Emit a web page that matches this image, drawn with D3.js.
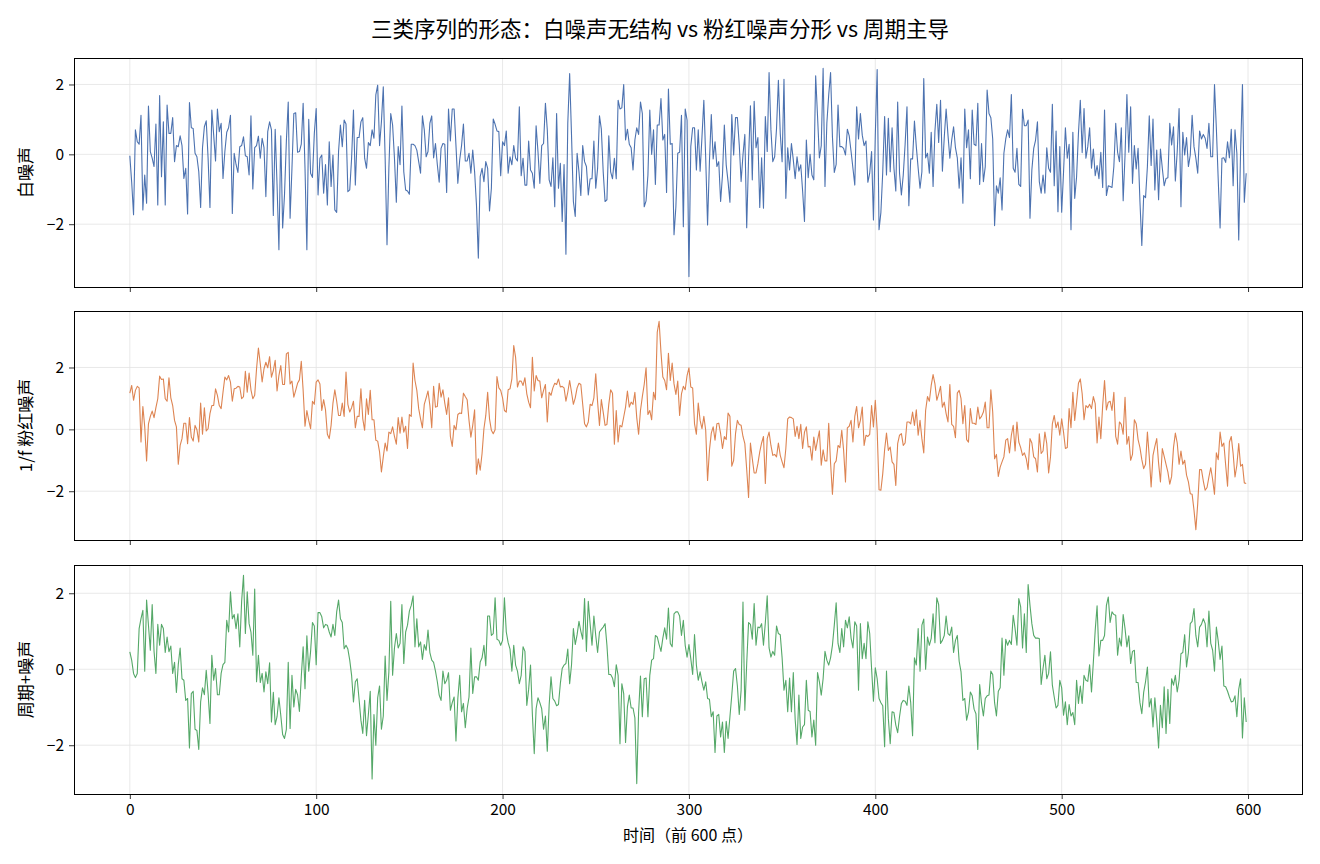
<!DOCTYPE html>
<html>
<head>
<meta charset="utf-8">
<script src="https://cdn.jsdelivr.net/npm/d3@7"></script>
<style>
  body { margin: 0; background: #fff; }
  svg text { font-family: "Noto Sans CJK SC", "Noto Sans", sans-serif; fill: #000; }
  .grid line { stroke: #e3e3e3; stroke-width: 0.8; }
  .axis line { stroke: #000; stroke-width: 0.8; }
  .axis text { font-size: 15.5px; }
</style>
</head>
<body>
<svg id="chart" width="1320" height="864"></svg>
<script>
const titleText = '三类序列的形态：白噪声无结构 vs 粉红噪声分形 vs 周期主导';
const xLabelText = '时间（前 600 点）';
const seriesNames = ['白噪声', '1/f 粉红噪声', '周期+噪声'];
const seriesColors = ['#4c72b0', '#dd8452', '#55a868'];
const xTicks = [0, 100, 200, 300, 400, 500, 600];
const yTicks = [-2, 0, 2];

// values, one per time step (0..599)
const whiteNoise = [
 -0.04,-0.80,-1.73,0.70,0.36,0.29,1.12,-1.59,-0.59,-1.40,1.38,0.08,-0.11,-0.35,0.87,-1.45,1.68,-0.64,0.93,-1.45,
 1.41,0.60,0.60,1.05,-0.21,0.25,0.22,0.53,0.25,-0.69,-0.40,-1.71,1.48,0.76,0.74,0.03,-0.07,-0.50,-1.52,0.19,
 0.79,0.96,-0.11,-1.52,1.27,0.55,-0.19,1.30,0.65,0.89,-0.69,0.08,0.63,0.76,1.12,-1.69,0.03,-0.29,-0.52,0.22,
 0.25,0.50,-0.04,-0.07,-0.59,1.10,-0.99,0.19,0.25,0.52,-0.11,0.46,0.19,-1.21,0.65,0.93,0.70,-1.75,0.72,-0.88,
 -2.73,0.53,-2.11,-1.16,0.38,1.50,-1.83,-0.40,1.17,1.19,0.06,0.08,0.29,1.46,-0.40,-2.73,1.00,-0.54,-0.66,0.60,
 1.31,-1.16,-0.11,-0.02,-1.11,-0.29,-1.45,0.36,-0.92,-0.02,-1.59,-1.66,0.08,0.84,0.22,0.98,0.87,-1.07,-1.02,-0.11,
 1.27,-0.88,0.48,0.48,0.93,1.05,-0.11,-0.40,0.34,0.25,0.70,0.46,1.70,1.98,0.25,0.93,1.93,-0.11,-2.59,-0.40,
 1.17,0.84,-0.11,-1.37,0.22,-0.30,1.38,-0.50,-1.02,-1.05,-1.14,0.29,0.29,0.25,0.12,-0.21,-0.54,1.10,0.70,-0.07,
 0.08,0.89,1.10,-0.10,0.31,-0.30,-0.80,0.17,0.31,0.29,-1.09,1.30,0.38,1.30,1.30,0.25,-0.83,-0.16,0.25,0.87,
 -0.19,-0.19,0.03,-0.54,0.12,-0.50,-1.45,-2.97,-0.64,-0.40,-0.78,-0.21,-0.40,-1.62,-0.97,1.01,0.86,0.67,0.65,-0.61,
 0.36,0.25,0.67,-0.54,-0.07,-0.30,0.25,-0.11,-0.19,1.36,-0.61,-0.11,-0.88,-0.88,0.38,-0.45,-0.54,-0.97,0.82,0.08,
 -0.83,0.25,0.31,1.46,0.70,-0.73,-0.92,-0.10,-1.50,1.17,-0.97,-0.26,-1.92,-0.29,-2.86,0.89,2.31,0.55,-1.35,-1.78,
 0.03,-0.50,-1.18,0.25,-0.21,-0.35,-1.16,-0.70,-0.70,0.38,-0.97,-0.40,1.10,0.72,-0.50,-1.35,-1.30,0.53,-0.50,-0.70,
 -0.11,-0.70,1.55,1.30,1.33,2.00,0.41,0.72,0.29,0.19,-0.45,0.41,0.76,0.57,1.50,1.17,-1.50,-1.33,-0.59,1.27,
 0.00,0.70,-0.86,0.84,0.84,1.60,0.41,0.57,-1.09,1.87,0.29,0.31,-2.30,-1.50,0.03,0.06,1.12,-2.07,1.30,0.98,
 -3.50,0.22,0.76,0.76,-0.45,0.70,-0.48,0.50,1.55,-0.11,-2.02,-0.21,1.14,-0.13,0.36,-0.35,-0.21,-1.35,-0.59,0.84,
 -0.30,-0.78,-1.37,1.14,-0.02,1.05,1.05,0.27,-0.78,-0.02,0.57,-2.10,-0.11,1.39,-0.73,1.52,0.19,0.48,-1.52,-0.10,
 -1.54,1.08,0.08,2.34,0.70,-0.21,-0.07,0.74,2.12,0.60,-0.21,2.15,-1.26,0.19,-0.45,0.31,-0.16,-0.70,-0.07,-0.48,
 -0.30,-1.05,-1.92,0.41,-0.67,0.00,-0.59,-0.73,2.25,1.10,-0.10,0.25,2.46,-0.92,0.89,1.70,2.34,0.50,-0.52,-0.29,
 1.41,0.22,0.22,0.17,-0.02,0.72,0.53,0.08,-0.40,-0.88,1.36,0.44,1.17,0.55,0.25,0.38,-0.80,-0.54,0.08,-1.88,
 0.55,2.43,-2.16,-1.66,-0.50,1.08,-0.59,1.03,-0.50,0.76,-0.40,-1.05,1.50,-0.54,-1.16,-0.59,0.29,1.36,-1.47,-0.13,
 -0.13,0.95,0.22,-0.40,-0.97,-0.50,2.17,-0.10,0.03,-0.54,0.63,-0.92,0.67,1.43,0.34,1.55,-0.48,0.48,1.30,0.55,
 -0.11,0.41,0.79,0.19,-0.10,-0.97,-0.10,-1.40,1.30,0.19,0.70,-0.70,1.27,0.29,0.25,1.46,-0.86,0.31,-0.78,-0.35,
 1.84,1.17,1.05,0.44,-2.04,-0.90,-1.11,-0.67,-1.59,0.03,0.44,0.70,0.48,1.71,-0.40,-0.51,0.17,-0.86,-0.92,1.29,
 0.82,0.82,0.98,-1.83,-0.45,0.17,0.41,0.93,-0.78,-1.11,-0.59,-1.11,0.19,-0.40,-0.51,1.43,-0.90,0.67,-1.64,0.22,
 -1.66,-0.51,0.76,-0.11,0.29,-2.16,0.63,-1.26,-0.64,0.60,1.55,0.05,1.31,-0.11,0.22,0.76,-0.40,0.15,-0.61,-0.32,
 -0.70,0.06,-0.95,1.27,-1.18,-0.90,-0.92,-0.95,-0.35,0.89,0.06,-0.21,0.76,-1.33,-0.02,1.71,0.06,1.36,-0.83,0.25,
 -0.42,0.17,-1.35,-2.61,-1.18,-1.24,-0.35,1.10,-0.32,1.01,-1.02,0.12,-1.30,0.15,-0.40,-0.90,-0.69,-0.67,0.89,0.27,
 0.79,-0.76,0.08,1.31,-1.50,0.63,-0.02,0.48,-0.35,-0.02,1.12,0.22,-0.11,-0.54,0.67,0.44,0.57,0.46,0.17,0.89,
 -0.07,-0.07,2.00,0.74,-0.73,-2.11,-0.11,-0.10,-0.23,0.36,-0.10,0.72,-0.90,0.70,0.03,-2.45,0.08,2.00,-1.37,-0.54
];

const pinkNoise = [
 1.17,1.42,0.94,1.26,1.39,1.34,-0.41,0.74,0.08,-1.02,0.18,0.42,0.59,0.38,0.70,0.99,1.72,1.61,1.63,0.99,
 0.91,1.67,1.02,0.77,0.29,0.08,-1.13,-0.52,-0.30,0.20,0.20,-0.46,0.38,-0.25,-0.38,0.13,-0.01,-0.41,0.85,-0.16,
 0.70,-0.05,0.02,0.51,0.77,0.77,1.31,1.10,0.77,0.67,1.20,1.69,1.60,1.74,1.53,0.91,1.31,1.33,1.39,1.37,
 0.99,1.06,1.88,1.20,1.82,1.28,0.99,1.10,1.96,2.63,2.12,1.53,1.96,2.17,1.99,2.35,1.69,1.90,2.23,1.24,
 1.74,2.06,1.45,1.45,2.44,2.49,1.47,1.56,1.04,1.26,1.49,1.60,2.20,1.26,0.10,0.61,0.29,0.02,0.91,0.81,
 1.53,1.60,1.47,0.61,0.96,0.63,-0.16,-0.30,0.13,0.85,1.28,0.91,0.45,0.45,0.85,0.42,1.85,0.81,0.56,0.70,
 0.91,0.05,0.42,0.42,1.31,0.34,-0.03,0.99,0.48,1.26,0.31,0.31,-0.35,-0.38,-0.73,-1.38,-0.89,-0.44,-0.70,-0.09,
 -0.14,0.08,-0.23,-0.48,0.38,-0.12,0.40,-0.09,0.10,-0.62,0.48,0.42,2.14,1.58,1.26,0.67,0.34,0.05,0.81,1.02,
 1.24,0.77,0.05,1.39,0.72,0.74,1.49,1.04,1.28,0.85,0.48,1.02,-0.23,-0.55,0.13,-0.01,0.48,0.53,0.51,1.17,
 1.06,0.96,0.29,-0.25,0.13,0.63,-1.45,-0.95,-1.32,-0.78,0.02,0.45,1.20,0.34,-0.03,-0.14,-0.01,1.71,1.34,1.26,
 1.02,0.61,0.56,1.28,1.31,1.63,2.71,2.33,1.37,1.56,1.56,1.42,1.67,1.15,0.88,0.70,2.33,1.24,1.74,1.58,
 1.56,1.02,1.26,1.45,0.24,1.20,1.10,1.34,1.49,1.45,1.63,1.37,1.39,1.34,0.91,1.20,1.58,1.20,0.81,1.02,
 1.34,1.49,1.45,0.81,0.18,0.08,0.24,0.81,0.77,1.02,1.80,0.88,0.13,0.96,0.56,0.13,0.16,0.81,1.28,1.17,
 -0.48,0.61,-0.41,0.13,0.08,0.40,0.72,1.24,0.72,0.88,0.81,1.20,0.38,-0.16,0.61,1.06,1.45,1.99,0.48,0.61,
 0.31,1.20,0.96,3.14,3.49,2.49,1.69,1.58,1.28,2.46,1.58,2.14,1.47,1.13,1.56,0.45,1.15,1.39,1.28,1.74,
 1.99,1.37,1.34,0.18,-0.16,0.85,0.29,0.02,0.42,-0.03,-1.65,-0.68,-0.12,0.08,-0.35,0.18,0.20,-0.14,-0.62,-0.23,
 -0.33,0.53,0.42,-1.19,-1.00,-0.14,0.29,0.16,0.13,-0.23,-0.46,-1.30,-2.20,-0.44,-0.95,-1.41,-1.41,-1.11,-0.73,-0.44,
 -0.23,-1.75,-0.30,-0.09,-0.52,-0.84,-0.81,-0.89,-0.44,-0.84,-1.05,-1.24,-0.62,0.34,0.40,0.38,0.34,-0.23,0.10,-0.30,
 0.16,-0.62,-0.09,0.08,-0.57,-0.55,-1.00,-0.25,-0.68,-0.35,-0.05,-1.16,-0.66,-1.02,-1.02,0.20,-1.09,-2.10,-1.11,-1.02,
 -0.52,-0.59,-0.03,-0.68,-1.70,0.05,0.10,0.29,-0.41,0.42,0.74,0.05,0.29,0.72,-0.52,-0.19,-0.23,-0.16,0.77,0.08,
 0.94,-0.03,-1.95,-1.97,-1.43,-0.66,-0.12,-0.68,-0.57,-1.05,-1.13,-1.81,-0.46,-0.19,-0.14,-0.52,-0.44,0.24,0.24,0.18,
 0.56,0.13,0.63,-0.19,0.29,-0.30,-0.76,0.61,1.06,0.91,1.42,1.77,1.47,0.94,1.15,1.39,0.72,0.88,0.51,0.24,
 1.45,0.16,0.10,-0.27,1.17,1.26,0.99,0.18,0.77,-0.33,-0.41,0.67,0.20,0.20,0.16,0.72,0.34,0.42,0.56,0.88,
 0.05,0.05,1.28,0.56,-0.95,-0.81,-1.52,-1.22,-1.05,-0.89,-0.35,-0.30,-0.76,-0.19,0.13,-0.70,0.24,-0.41,-0.59,-0.84,
 -0.76,-0.95,-1.30,-0.30,-0.44,-0.89,-0.95,-1.38,-0.14,-0.78,-0.70,-0.09,-0.46,-1.41,-0.89,0.18,0.45,0.05,0.24,-0.19,
 0.34,-0.09,-0.62,-0.59,0.67,0.05,1.20,0.29,0.88,1.49,1.63,1.15,0.31,0.77,0.70,0.81,0.67,1.06,0.83,-0.44,
 0.40,-0.30,0.77,1.58,0.63,0.88,0.91,0.61,1.20,-0.23,-0.48,0.24,0.16,-0.16,1.04,-0.48,-0.23,-1.00,-0.81,0.31,
 0.18,-0.33,-0.59,-0.98,-1.27,-1.13,-0.09,-0.89,-1.86,-0.84,-0.55,-0.30,-1.09,-1.70,-0.62,-0.87,-1.13,-1.38,-1.77,-1.52,
 -0.59,-0.12,-0.44,-1.13,-0.70,-1.13,-1.00,-1.48,-1.70,-2.08,-2.10,-2.61,-3.24,-2.40,-1.30,-1.30,-1.67,-1.97,-1.88,-1.54,
 -1.24,-1.62,-2.10,-0.76,-0.98,-0.09,-0.55,-0.44,-1.16,-1.84,-0.41,-0.23,-0.78,-1.54,-1.16,-0.46,-1.19,-1.13,-1.73,-1.75
];

const periodicNoise = [
 0.46,0.24,-0.11,-0.22,-0.11,1.07,1.33,1.55,-0.05,1.82,1.16,0.50,1.70,0.47,-0.11,1.18,0.63,1.18,1.07,0.44,
 0.85,0.46,0.61,-0.11,0.18,-0.61,0.12,0.56,-0.25,-0.29,-0.82,-0.77,-2.07,-0.64,-0.58,-1.58,-1.61,-2.11,-0.86,-0.49,
 -0.67,-0.03,-0.64,-1.43,0.37,-0.29,0.02,-0.67,-0.67,-0.11,0.12,0.18,1.29,0.98,2.04,1.33,1.44,1.07,1.46,0.59,
 1.79,2.47,0.94,2.04,1.20,0.98,0.37,2.11,-0.33,0.37,-0.35,-0.11,-0.60,-0.07,-0.38,0.17,-1.39,-0.61,-1.46,-1.25,
 -0.75,-1.21,-1.72,-1.82,-1.58,0.18,-1.56,-0.16,-0.99,-0.53,-0.67,-1.11,-0.20,0.59,-0.51,0.88,-0.05,0.47,1.23,1.14,
 0.12,1.49,1.49,1.38,1.09,1.18,1.16,0.98,0.85,1.18,0.89,1.51,1.82,1.33,1.23,0.54,0.63,0.53,0.24,-0.16,
 -0.86,-0.33,-0.25,-0.79,-1.34,-1.69,-0.82,-1.75,-1.19,-0.58,-2.89,-1.19,-2.00,-0.75,-0.44,-1.58,-1.23,0.35,-0.82,-0.07,
 1.79,-0.16,0.56,0.94,0.56,0.68,1.70,0.15,0.98,1.16,1.53,1.68,1.93,0.59,1.33,0.59,0.72,0.26,0.65,0.50,
 1.03,0.44,0.24,0.18,-0.05,-0.33,-0.68,-0.82,-0.05,-0.38,-0.29,-0.09,-1.08,-0.88,-0.73,-1.89,-0.77,-0.16,-1.12,-0.90,
 -1.54,-1.04,-0.73,0.56,-0.64,-0.20,-0.20,-0.29,0.19,0.30,0.63,0.09,1.40,1.40,0.89,0.94,1.88,0.79,0.76,0.63,
 0.76,1.88,0.98,0.70,0.53,-0.05,0.63,0.11,-0.05,-0.38,-0.16,0.59,0.47,-0.95,-0.53,0.11,-1.19,-2.22,-1.04,-0.75,
 -0.88,-1.04,-1.58,-1.23,-2.16,-0.95,-0.20,-0.77,-0.84,-0.96,-0.93,-0.38,0.02,0.11,0.15,0.53,-0.38,0.11,1.07,0.65,
 0.91,1.26,1.00,0.79,1.86,0.47,1.79,1.18,0.63,1.40,0.89,0.44,0.98,1.05,1.11,1.20,0.63,-0.14,-0.14,-0.23,
 -0.46,0.12,-0.16,-1.96,-0.38,-0.64,-1.93,-0.99,-0.68,-1.02,-1.02,-1.28,-3.01,-1.12,-0.18,-1.25,-0.25,-0.23,-1.25,-0.16,
 0.24,0.28,0.89,0.85,0.65,0.47,0.82,1.09,0.79,1.61,0.68,0.59,1.46,1.51,1.51,1.40,0.89,1.29,0.63,0.32,
 0.65,0.28,-0.14,0.91,0.11,-0.29,-0.07,-0.33,-0.55,-0.33,-0.77,-0.79,-1.25,-1.12,-2.19,-1.23,-1.19,-1.78,-1.39,-2.19,
 -1.37,-1.82,-1.25,-0.68,-0.05,0.02,-0.44,-1.19,-0.55,1.77,-1.08,0.15,1.23,1.18,0.79,1.73,0.63,1.11,1.09,1.20,
 0.63,1.23,1.93,0.56,0.32,0.47,0.37,1.14,0.94,0.91,0.30,-0.55,-0.29,-1.12,-0.23,-1.12,-0.09,-1.32,-1.98,-0.68,
 -1.82,-1.52,-1.46,-0.29,-1.08,-1.11,-1.78,-1.34,-2.00,-0.09,-0.33,-0.68,-0.25,0.47,0.24,0.11,0.30,0.63,1.16,1.75,
 0.68,0.44,1.07,0.59,1.29,1.09,1.38,0.82,0.56,1.25,1.14,-0.55,1.20,0.28,0.68,0.28,1.25,0.94,0.02,-0.84,
 0.04,-0.25,-0.77,-0.88,-0.96,-2.04,-0.05,-1.30,-1.96,-1.12,-1.14,-1.47,-1.67,-1.25,-0.90,-0.82,-0.84,-0.95,-0.44,-0.88,
 -1.75,0.30,0.11,1.07,-0.05,1.16,1.32,0.00,0.85,0.63,0.81,1.46,0.70,1.88,1.70,0.68,0.76,0.89,1.40,0.94,
 0.89,1.11,0.44,0.76,0.89,0.21,-0.07,-0.82,-0.77,-1.34,-1.12,-0.60,-0.70,-1.05,-1.17,-2.11,-0.40,-0.90,-1.23,-0.77,
 -0.70,-0.68,-0.05,-0.14,-0.88,-1.23,-0.58,-0.49,0.82,-0.16,0.79,0.63,0.76,0.65,1.42,1.07,0.63,1.86,1.64,0.56,
 1.46,0.44,2.23,1.68,1.20,0.89,0.82,0.82,0.81,-0.40,0.02,0.37,-0.25,-0.11,0.46,-0.42,-0.73,-1.02,-0.95,-0.29,
 -0.49,-1.21,-0.86,-1.46,-0.93,-1.23,-1.14,-1.46,-0.29,-0.90,-0.44,-0.90,-0.16,-0.29,-0.32,0.12,-0.60,0.19,1.03,1.67,
 0.35,0.76,0.76,0.89,1.68,1.90,1.23,1.51,1.44,1.42,0.37,0.82,0.61,1.44,1.07,0.59,0.88,0.15,0.47,0.50,
 -0.35,-0.35,-0.88,-1.17,-0.61,-0.33,0.06,-0.99,-0.77,-1.52,-0.75,-1.34,-2.07,-0.95,-1.54,-0.46,-1.69,-0.53,-1.43,-0.25,
 -0.42,-0.16,-0.60,-0.29,0.41,0.44,0.91,0.06,0.44,1.20,1.26,1.60,0.89,0.59,1.11,1.18,1.33,1.20,0.59,1.53,
 0.68,0.50,-0.05,1.11,0.74,0.26,0.61,-0.44,-0.46,-0.58,-0.73,-0.86,-0.84,-0.70,-1.25,-0.53,-0.25,-1.81,-0.75,-1.39
];

const allSeries = [whiteNoise, pinkNoise, periodicNoise];

const width = 1320;
const margin = { left: 74, right: 18 };
const panelTops = [58, 311, 565];
const panelH = 229;
const innerW = width - margin.left - margin.right;

const svg = d3.select('#chart');

// shared x, matplotlib-style 5% margins
const n = whiteNoise.length;
const xPad = (n - 1) * 0.05;
const x = d3.scaleLinear().domain([-xPad, n - 1 + xPad]).range([0, innerW]);

svg.append('text')
    .attr('x', width / 2)
    .attr('y', 31)
    .attr('text-anchor', 'middle')
    .attr('dominant-baseline', 'middle')
    .style('font-size', '21.5px')
    .text(titleText);

allSeries.forEach((values, i) => {
    const g = svg.append('g')
        .attr('transform', `translate(${margin.left}, ${panelTops[i]})`);

    const [lo, hi] = d3.extent(values);
    const yPad = (hi - lo) * 0.05;
    const y = d3.scaleLinear().domain([lo - yPad, hi + yPad]).range([panelH, 0]);

    const grid = g.append('g').attr('class', 'grid');
    grid.selectAll('.gx').data(xTicks).join('line')
        .attr('class', 'gx')
        .attr('x1', d => x(d)).attr('x2', d => x(d))
        .attr('y1', 0).attr('y2', panelH);
    grid.selectAll('.gy').data(yTicks).join('line')
        .attr('class', 'gy')
        .attr('x1', 0).attr('x2', innerW)
        .attr('y1', d => y(d)).attr('y2', d => y(d));

    const line = d3.line()
        .x((d, j) => x(j))
        .y(d => y(d));

    g.append('path')
        .datum(values)
        .attr('fill', 'none')
        .attr('stroke', seriesColors[i])
        .attr('stroke-width', 1.1)
        .attr('stroke-linejoin', 'round')
        .attr('d', line);

    const yAxis = d3.axisLeft(y)
        .tickValues(yTicks)
        .tickSize(5)
        .tickPadding(5)
        .tickFormat(d3.format('d'));
    g.append('g').attr('class', 'axis').call(yAxis)
        .call(a => a.select('.domain').remove());

    const xAxis = d3.axisBottom(x)
        .tickValues(xTicks)
        .tickSize(5)
        .tickPadding(5)
        .tickFormat(i === allSeries.length - 1 ? d3.format('d') : () => '');
    g.append('g').attr('class', 'axis')
        .attr('transform', `translate(0, ${panelH})`)
        .call(xAxis)
        .call(a => a.select('.domain').remove());

    g.append('rect')
        .attr('x', 0).attr('y', 0)
        .attr('width', innerW).attr('height', panelH)
        .attr('fill', 'none')
        .attr('stroke', '#000')
        .attr('stroke-width', 1)
        .attr('shape-rendering', 'crispEdges');

    svg.append('text')
        .attr('transform', `translate(27, ${panelTops[i] + panelH / 2}) rotate(-90)`)
        .attr('text-anchor', 'middle')
        .attr('dominant-baseline', 'middle')
        .style('font-size', '17px')
        .text(seriesNames[i]);
});

svg.append('text')
    .attr('x', margin.left + innerW / 2)
    .attr('y', 837)
    .attr('text-anchor', 'middle')
    .attr('dominant-baseline', 'middle')
    .style('font-size', '16px')
    .text(xLabelText);
</script>
</body>
</html>
